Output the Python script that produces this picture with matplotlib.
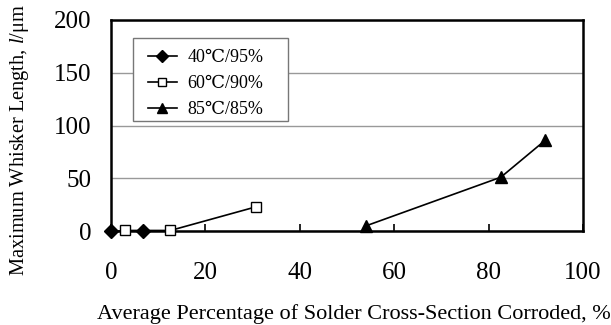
import matplotlib
matplotlib.use('Agg')
import matplotlib.pyplot as plt
from matplotlib.patches import Rectangle

plt.rcParams['font.family'] = ['Liberation Serif', 'DejaVu Serif', 'Noto Sans CJK SC']
plt.rcParams['mathtext.fontset'] = 'custom'
plt.rcParams['mathtext.it'] = 'Liberation Serif:italic'
plt.rcParams['mathtext.rm'] = 'Liberation Serif'

# 40°C / 95%RH
x_40 = [0, 6.8]
y_40 = [0, 0]
# 60°C / 90%RH
x_60 = [3.0, 12.6, 30.8]
y_60 = [0.5, 0.5, 23]
# 85°C / 85%RH
x_85 = [54.1, 82.6, 92.0]
y_85 = [5, 51, 86]

labels = ['40\u2103/95%', '60\u2103/90%', '85\u2103/85%']

W, H = 611, 325
fig = plt.figure(figsize=(W / 100, H / 100), dpi=100)
ax = fig.add_axes([111 / W, 1 - 231 / H, 472 / W, 211 / H])

ax.plot(x_40, y_40, marker='D', color='black', markersize=7, lw=1.2, label=labels[0], clip_on=False, zorder=5)
ax.plot(x_60, y_60, marker='s', color='black', mfc='white', markersize=7.5, mew=1, lw=1.2, label=labels[1], clip_on=False, zorder=5)
ax.plot(x_85, y_85, marker='^', color='black', markersize=9, lw=1.2, label=labels[2], clip_on=False, zorder=5)

ax.set_xlim(0, 100)
ax.set_ylim(0, 200)
ax.set_xticks([0, 20, 40, 60, 80, 100])
ax.set_yticks([0, 50, 100, 150, 200])
ax.tick_params(axis='x', direction='in', length=5, width=1.2, pad=22, labelsize=18)
ax.tick_params(axis='y', length=0, pad=14, labelsize=18)
ax.grid(axis='y', color='#999999', lw=1)
ax.set_axisbelow(True)
for s in ax.spines.values():
    s.set_linewidth(1.8)

ax.set_xlabel('Average Percentage of Solder Cross-Section Corroded, %', fontsize=16)
ax.set_ylabel('Maximum Whisker Length, $l$/\u03bcm', fontsize=14.7)
ax.xaxis.set_label_coords(0.515, -0.345)
ax.yaxis.set_label_coords(-0.17, 0.43)

# legend frame drawn separately so it can be wider than the text
frame = Rectangle((22 / 472, (231 - 121) / 211), 155 / 472, 83 / 211, transform=ax.transAxes,
                  facecolor='white', edgecolor='#777777', lw=1, zorder=3)
ax.add_patch(frame)
leg = ax.legend(loc='upper left', bbox_to_anchor=(37 / 472, 182 / 211), fontsize=13, frameon=False,
                handlelength=1.6, handletextpad=0.6, borderpad=0, labelspacing=0.5,
                borderaxespad=0, markerscale=0.85)
leg.set_zorder(4)

fig.savefig('out.png', dpi=100)
plt.close(fig)
